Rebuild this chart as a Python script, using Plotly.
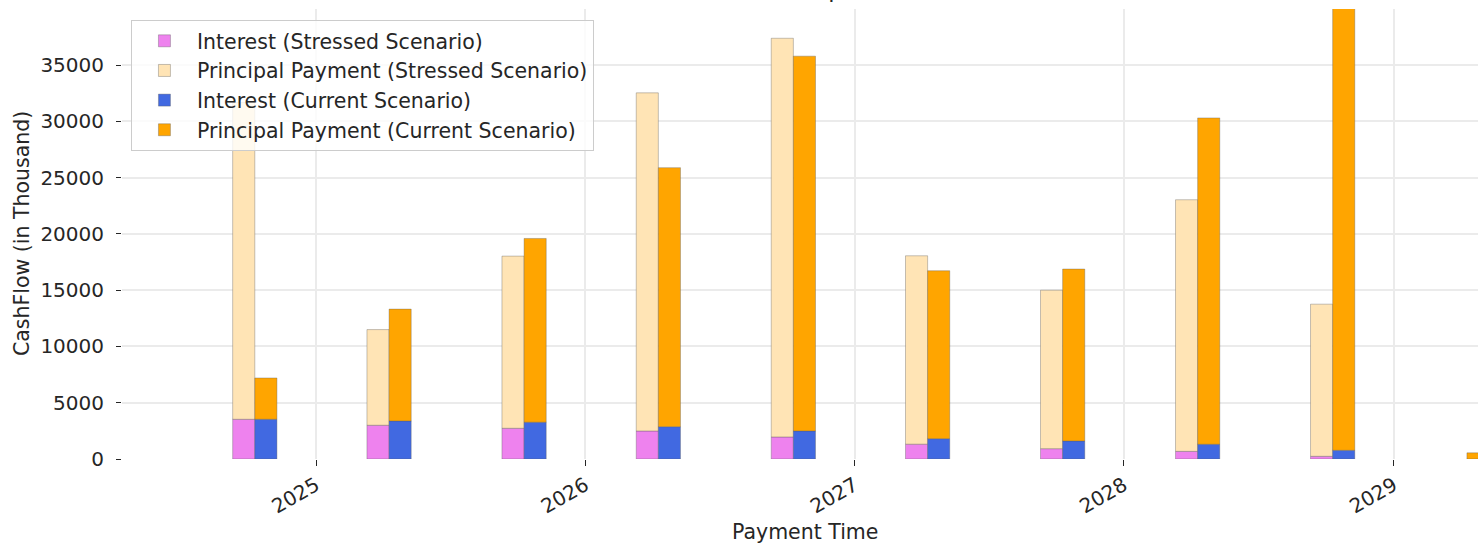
import plotly.graph_objects as go
import pandas as pd

# ---- data (values in thousand) ----
payment_dates = ["2024-10-10", "2025-04-10", "2025-10-10", "2026-04-10", "2026-10-10",
                 "2027-04-10", "2027-10-10", "2028-04-10", "2028-10-10", "2029-04-10"]
interest_stressed = [3530, 3000, 2730, 2490, 1960, 1320, 920, 680, 240, None]
principal_stressed = [28140, 8500, 15300, 30050, 35430, 16740, 14080, 22360, 13520, None]
interest_current = [3530, 3380, 3270, 2870, 2490, 1810, 1600, 1310, 770, 0]
principal_current = [3670, 9940, 16330, 23020, 33310, 14920, 15280, 29000, 39330, 550]
year_ticks = ["2025-01-01", "2026-01-01", "2027-01-01", "2028-01-01", "2029-01-01"]
year_labels = ["2025", "2026", "2027", "2028", "2029"]

# ---- styling ----
FONT = "DejaVu Sans"
FS = 20.5
TICK_FS = 20
TXT = "#262626"
GRID = "#ebebeb"
EDGE = "rgba(90,90,90,0.45)"
DAY_MS = 24 * 3600 * 1000
BAR_W = 30 * DAY_MS

x = pd.to_datetime(payment_dates)

fig = go.Figure()


def add_bar(name, y, base, color, offset):
    fig.add_trace(go.Bar(
        x=x, y=y, base=base, name=name,
        width=[BAR_W] * len(y), offset=offset,
        marker=dict(color=color, line=dict(color=EDGE, width=0.8)),
    ))


add_bar("Interest (Stressed Scenario)", interest_stressed, None, "#EE82EE", -BAR_W)
add_bar("Principal Payment (Stressed Scenario)", principal_stressed, interest_stressed, "#FFE4B5", -BAR_W)
add_bar("Interest (Current Scenario)", interest_current, None, "#4169E1", 0)
add_bar("Principal Payment (Current Scenario)", principal_current, interest_current, "#FFA500", 0)

fig.update_layout(
    width=1478, height=544, autosize=False,
    margin=dict(l=122, r=0, t=9, b=85, pad=0),
    barmode="overlay",
    plot_bgcolor="white", paper_bgcolor="white",
    font=dict(family=FONT, size=FS, color=TXT),
    showlegend=True,
    legend=dict(
        x=0.0066, y=0.9756, xanchor="left", yanchor="top",
        bgcolor="rgba(255,255,255,0.8)", bordercolor="#cccccc", borderwidth=1,
        font=dict(family=FONT, size=FS, color=TXT),
        traceorder="normal", itemwidth=55,
    ),
    xaxis=dict(
        type="date", range=["2024-04-13", "2029-04-25"],
        tickvals=year_ticks, ticktext=year_labels, tickangle=-30,
        ticks="outside", ticklen=6, tickwidth=1, tickcolor=TXT,
        showgrid=True, gridcolor=GRID, gridwidth=2,
        showline=False, zeroline=False,
        tickfont=dict(family=FONT, size=TICK_FS, color=TXT),
    ),
    yaxis=dict(
        range=[0, 39990], dtick=5000, tick0=0, tickformat="d",
        ticks="outside", ticklen=5, tickwidth=1, tickcolor=TXT,
        ticklabelstandoff=8,
        showgrid=True, gridcolor=GRID, gridwidth=2,
        showline=False, zeroline=False,
        tickfont=dict(family=FONT, size=TICK_FS, color=TXT),
    ),
    annotations=[
        dict(text="Payment Time", xref="paper", yref="paper", x=0.5037, y=-0.162,
             xanchor="center", yanchor="middle", showarrow=False,
             font=dict(family=FONT, size=FS, color=TXT)),
        dict(text="CashFlow (in Thousand)", xref="paper", yref="paper", x=-0.0737, y=0.5,
             xanchor="center", yanchor="middle", textangle=-90, showarrow=False,
             font=dict(family=FONT, size=FS, color=TXT)),
        dict(text="Cash Flow Comparison", xref="paper", yref="paper", x=0.4876, y=1.011,
             xanchor="center", yanchor="bottom", showarrow=False,
             font=dict(family=FONT, size=23, color=TXT)),
    ],
)

fig.write_html("out.html", config={"displayModeBar": False},
               post_script="document.body.style.margin='0';")
